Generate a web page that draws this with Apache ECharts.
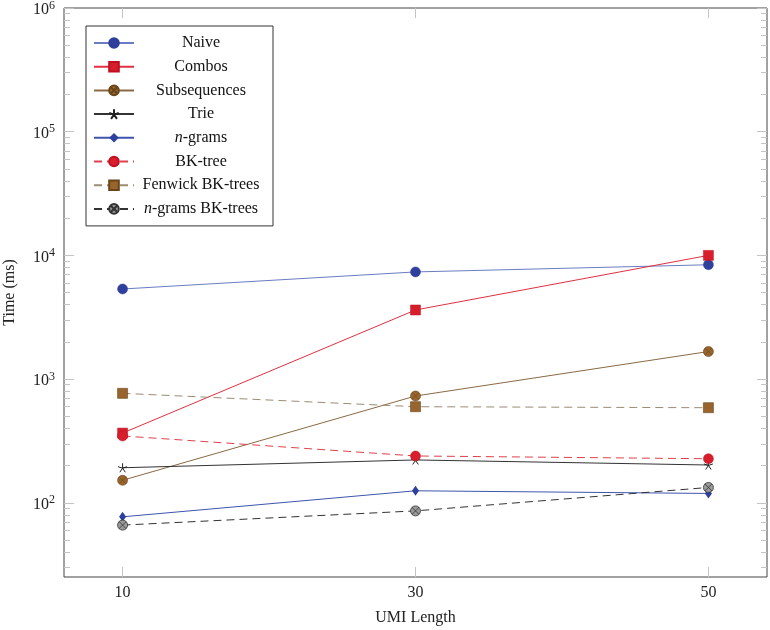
<!DOCTYPE html>
<html><head><meta charset="utf-8">
<script src="https://cdn.jsdelivr.net/npm/echarts@6/dist/echarts.min.js"></script>
<style>html,body{margin:0;padding:0;background:#fff}#c{width:770px;height:630px}</style>
</head><body><div id="c"></div>
<script>
// ---- data ----
const umiLength = [10, 30, 50];
const naive = [5350, 7350, 8400];
const combos = [366, 3620, 10000];
const subsequences = [152, 730, 1670];
const trie = [192, 222, 202];
const ngrams = [77, 125, 119];
const bkTree = [347, 239, 227];
const fenwickBkTrees = [767, 598, 587];
const ngramsBkTrees = [66, 86, 133];

const xTicks = [10, 30, 50];
const yMajorTicks = [100, 1000, 10000, 100000, 1000000];
const yMinorTicks = [30, 40, 50, 60, 70, 80, 90,
  200, 300, 400, 500, 600, 700, 800, 900,
  2000, 3000, 4000, 5000, 6000, 7000, 8000, 9000,
  20000, 30000, 40000, 50000, 60000, 70000, 80000, 90000,
  200000, 300000, 400000, 500000, 600000, 700000, 800000, 900000];

const legendLabels = {
  'Naive': '{n|Naive}',
  'Combos': '{n|Combos}',
  'Subsequences': '{n|Subsequences}',
  'Trie': '{n|Trie}',
  'n-grams': '{it|n}{n|-grams}',
  'BK-tree': '{n|BK-tree}',
  'Fenwick BK-trees': '{n|Fenwick BK-trees}',
  'n-grams BK-trees': '{it|n}{n|-grams BK-trees}'
};

// ---- style ----
const FONT = 'Liberation Serif';
const X_MIN = 6, X_MAX = 54;
const Y_MIN = Math.pow(10, 1.4), Y_MAX = 1e6;
const otimes = 'path://M10,0A10,10,0,1,1,-10,0A10,10,0,1,1,10,0ZM-7.07,-7.07L7.07,7.07M-7.07,7.07L7.07,-7.07';
const star = 'path://M0,0L0,-10M0,0L-9.51,-3.09M0,0L-5.88,8.09M0,0L5.88,8.09M0,0L9.51,-3.09';

function mk(name, values, lineColor, dash, symbol, size, itemStyle) {
  return {
    type: 'line', name: name,
    data: umiLength.map((x, i) => [x, values[i]]),
    symbol: symbol, symbolSize: size, showSymbol: true,
    lineStyle: { color: lineColor, width: 1, type: dash ? [8, 5] : 'solid' },
    itemStyle: Object.assign({ opacity: 1 }, itemStyle),
    emphasis: { disabled: true },
    z: 3
  };
}

const series = [
  mk('Naive', naive, '#6a7cc2', false, 'circle', 10, { color: '#2f3f9c', borderColor: '#2f3f9c', borderWidth: 0.5 }),
  mk('Combos', combos, '#e03040', false, 'rect', 10, { color: '#d81e2c', borderColor: '#c01020', borderWidth: 0.5 }),
  mk('Subsequences', subsequences, '#8a6a45', false, otimes, 10, { color: '#97652d', borderColor: '#6a4518', borderWidth: 0.6 }),
  mk('Trie', trie, '#333333', false, star, 9, { color: 'none', borderColor: '#222', borderWidth: 1 }),
  mk('n-grams', ngrams, '#3f55ad', false, 'diamond', [7, 10], { color: '#2f3f9c' }),
  mk('BK-tree', bkTree, '#e0404c', true, 'circle', 10, { color: '#d81e2c', borderColor: '#c01020', borderWidth: 0.5 }),
  mk('Fenwick BK-trees', fenwickBkTrees, '#9b8c74', true, 'rect', 10, { color: '#97652d', borderColor: '#6a4518', borderWidth: 0.6 }),
  mk('n-grams BK-trees', ngramsBkTrees, '#333333', true, otimes, 10, { color: '#9a9a9a', borderColor: '#333', borderWidth: 0.8 })
];

const tickColor = '#c4c4c4';
const labelStyle = { fontFamily: FONT, fontSize: 16, color: '#222' };

function yAx(pos, ticks, len, withLabel) {
  const ax = {
    type: 'log', logBase: 10, position: pos, min: Y_MIN, max: Y_MAX,
    axisLine: { show: false }, splitLine: { show: false }, minorTick: { show: false },
    axisTick: { show: true, inside: true, length: len, customValues: ticks, lineStyle: { color: tickColor, width: 1 } },
    axisLabel: { show: false }
  };
  if (withLabel) {
    ax.axisLabel = Object.assign({
      show: true, customValues: yMajorTicks, margin: 9, padding: [4, 0, 0, 0],
      formatter: v => '10{sup|' + Math.round(Math.log10(v)) + '}',
      rich: { sup: { fontFamily: FONT, fontSize: 12, color: '#222', padding: [0, 0, 9, 0] } }
    }, labelStyle);
    ax.name = 'Time (ms)';
    ax.nameLocation = 'middle';
    ax.nameRotate = 90;
    ax.nameGap = 46;
    ax.nameTextStyle = labelStyle;
  }
  return ax;
}

function xAx(pos, withLabel) {
  const ax = {
    type: 'value', position: pos, min: X_MIN, max: X_MAX,
    axisLine: { show: false }, splitLine: { show: false },
    axisTick: { show: true, inside: true, length: 10, customValues: xTicks, lineStyle: { color: tickColor, width: 1 } },
    axisLabel: { show: false }
  };
  if (withLabel) {
    ax.axisLabel = Object.assign({ show: true, customValues: xTicks, margin: 8 }, labelStyle);
    ax.name = 'UMI Length';
    ax.nameLocation = 'middle';
    ax.nameGap = 33;
    ax.nameTextStyle = labelStyle;
  }
  return ax;
}

const tokenStyle = { fontFamily: FONT, fontSize: 16, color: '#111', lineHeight: 20, align: 'center' };

const option = {
  animation: false,
  backgroundColor: '#fff',
  grid: { left: 64, right: 3, top: 8, bottom: 53, show: true, borderColor: '#444', borderWidth: 1,
    backgroundColor: 'transparent', containLabel: false, outerBoundsMode: 'none' },
  xAxis: [xAx('bottom', true), xAx('top', false)],
  yAxis: [
    yAx('left', yMajorTicks, 10, true),
    yAx('right', yMajorTicks, 10, false),
    yAx('left', yMinorTicks, 6, false),
    yAx('right', yMinorTicks, 6, false)
  ],
  legend: {
    left: 86, top: 26, orient: 'vertical',
    padding: [7, 10, 7, 7],
    itemWidth: 40, itemHeight: 12, itemGap: 3.7,
    borderColor: '#333', borderWidth: 1, backgroundColor: '#fff',
    selectedMode: false,
    formatter: name => legendLabels[name],
    textStyle: {
      width: 124, fontFamily: FONT, fontSize: 16, color: '#111', lineHeight: 20,
      rich: { n: tokenStyle, it: Object.assign({}, tokenStyle, { fontStyle: 'italic' }) }
    }
  },
  series: series
};

const chart = echarts.init(document.getElementById('c'), null, { renderer: 'canvas' });
chart.setOption(option);
</script>
</body></html>
